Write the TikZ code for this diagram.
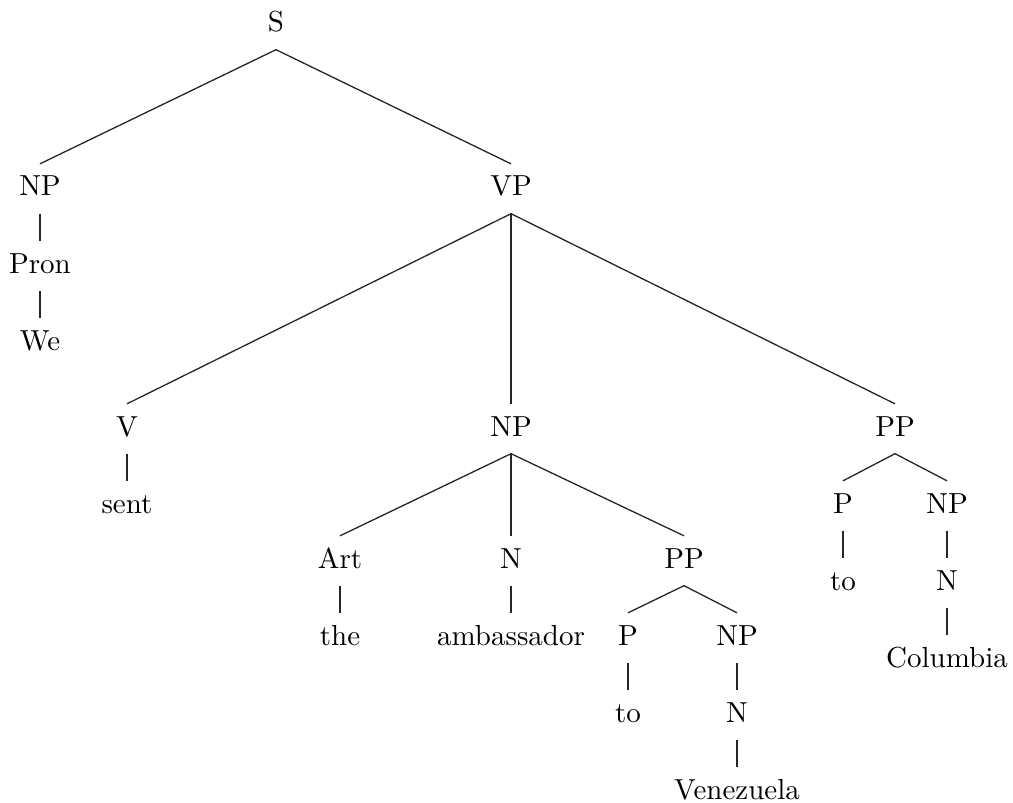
\documentclass[tikz,border=0pt]{standalone}
\usepackage{tikz}
\usetikzlibrary{positioning}
\tikzset{
  cat/.style={anchor=base, text height=7pt, text depth=2pt, inner sep=3.9pt},
  branch/.style={draw=black!85, line width=0.45pt},
}

\begin{document}
\begin{tikzpicture}[x=0.345pt, y=-0.345pt, node distance=9.4pt]
\useasboundingbox (0,0) rectangle (1013,803);
% top
\node[cat] (s) at (276,32) {S};
\node[cat] (np1) at (40,196) {NP};
\node[cat, below=of np1] (pron) {Pron};
\node[cat, below=of pron] (we) {We};
\node[cat] (vp) at (511,196) {VP};
% verb phrase
\node[cat] (v) at (127,436) {V};
\node[cat, below=of v] (sent) {sent};
\node[cat] (np2) at (511,436) {NP};
\node[cat] (pp2) at (895,436) {PP};
% object
\node[cat] (art) at (340,568) {Art};
\node[cat, below=of art] (the) {the};
\node[cat] (n1) at (511,568) {N};
\node[cat, below=of n1] (amb) {ambassador};
\node[cat] (pp1) at (684,568) {PP};
\node[cat] (p1) at (628,645) {P};
\node[cat, below=of p1] (to1) {to};
\node[cat] (np3) at (737,645) {NP};
\node[cat, below=of np3] (n2) {N};
\node[cat, below=of n2] (ven) {Venezuela};
% second PP
\node[cat] (p2) at (843,513) {P};
\node[cat, below=of p2] (to2) {to};
\node[cat] (np4) at (947,513) {NP};
\node[cat, below=of np4] (n3) {N};
\node[cat, below=of n3] (col) {Columbia};
% branches
\draw[branch] (s.south) -- (np1.north);
\draw[branch] (s.south) -- (vp.north);
\draw[branch] (np1) -- (pron);
\draw[branch] (pron) -- (we);
\draw[branch] (vp.south) -- (v.north);
\draw[branch] (vp.south) -- (np2.north);
\draw[branch] (vp.south) -- (pp2.north);
\draw[branch] (v) -- (sent);
\draw[branch] (np2.south) -- (art.north);
\draw[branch] (np2.south) -- (n1.north);
\draw[branch] (np2.south) -- (pp1.north);
\draw[branch] (art) -- (the);
\draw[branch] (n1) -- (amb);
\draw[branch] (pp1.south) -- (p1.north);
\draw[branch] (pp1.south) -- (np3.north);
\draw[branch] (p1) -- (to1);
\draw[branch] (np3) -- (n2);
\draw[branch] (n2) -- (ven);
\draw[branch] (pp2.south) -- (p2.north);
\draw[branch] (pp2.south) -- (np4.north);
\draw[branch] (p2) -- (to2);
\draw[branch] (np4) -- (n3);
\draw[branch] (n3) -- (col);
\end{tikzpicture}
\end{document}
